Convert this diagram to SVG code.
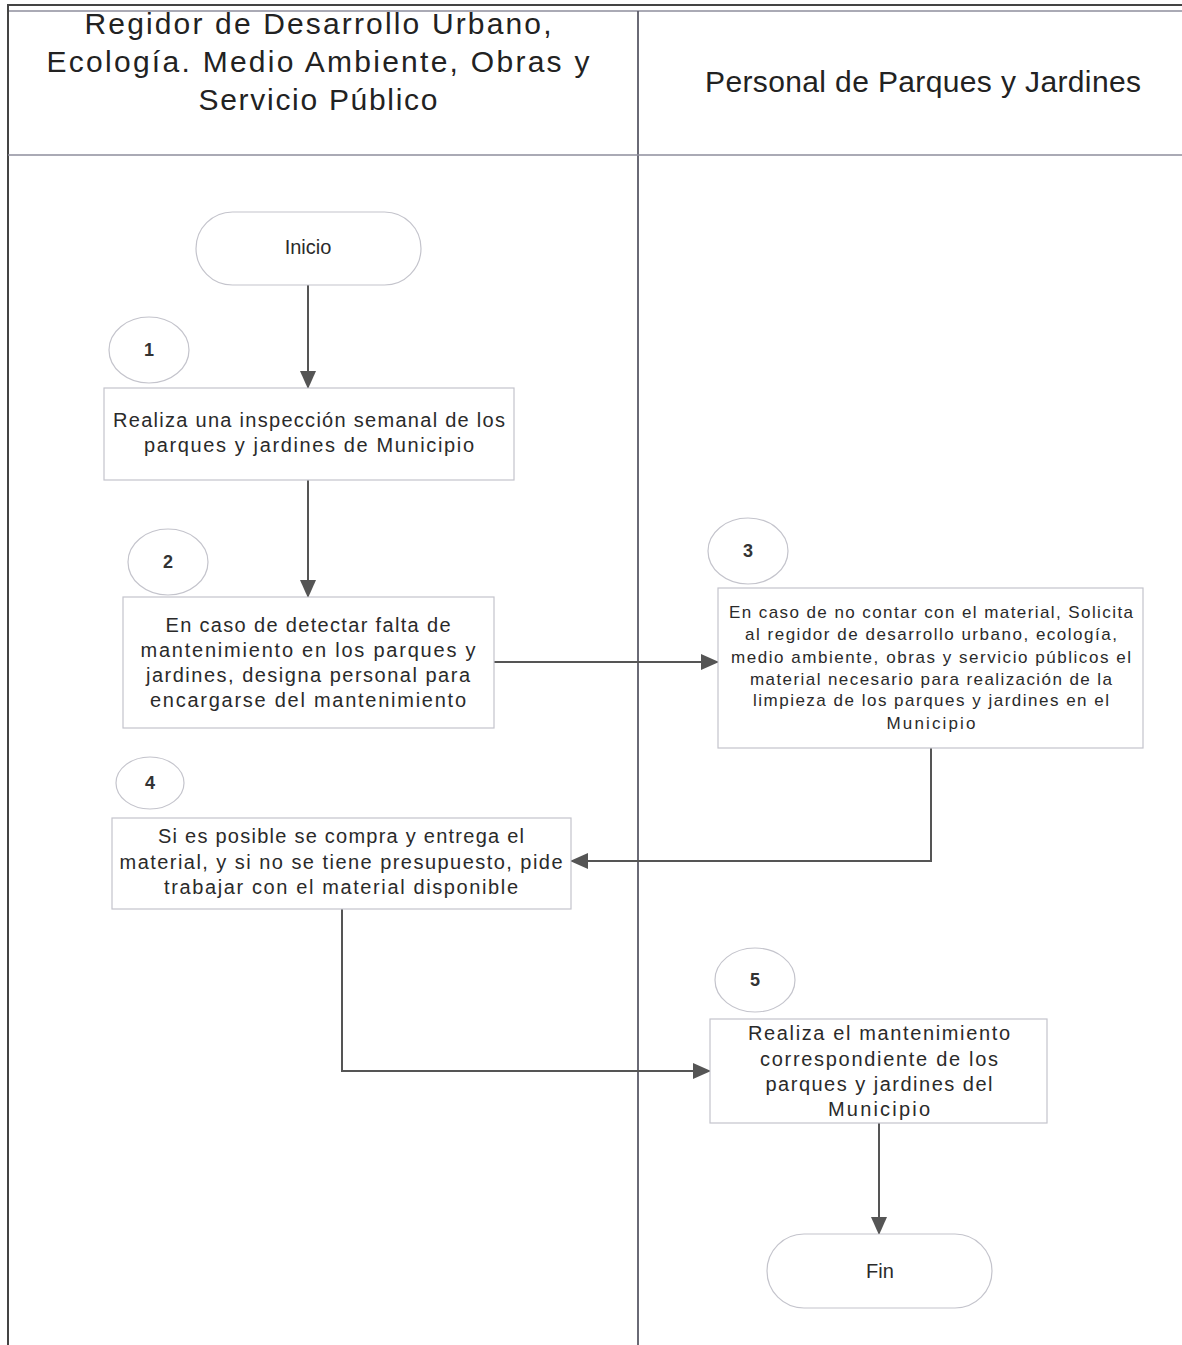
<svg xmlns="http://www.w3.org/2000/svg" width="1182" height="1345" viewBox="0 0 1182 1345">
  <style>
    .lane { fill: none; stroke: #444; stroke-width: 2; }
    .sep { fill: none; stroke: #8e8e9c; stroke-width: 1.6; }
    .div { fill: none; stroke: #5a5a66; stroke-width: 1.8; }
    .hdr { font-family: "Liberation Sans", Arial, sans-serif; font-size: 30px; fill: #222; text-anchor: middle; }
    .shape { fill: #fff; stroke: #c4c4cc; stroke-width: 1.2; }
    .txt { font-family: "Liberation Sans", Arial, sans-serif; font-size: 20px; fill: #2a2a2a; text-anchor: middle; }
    .small { font-size: 17px; }
    .num { font-family: "Liberation Sans", Arial, sans-serif; font-size: 18px; font-weight: bold; fill: #333; text-anchor: middle; }
    .conn { fill: none; stroke: #555; stroke-width: 2; }
  </style>
  <defs>
    <marker id="arrow" markerWidth="18" markerHeight="16" refX="17" refY="8" orient="auto" markerUnits="userSpaceOnUse" viewBox="0 0 18 16">
      <path d="M0,0 L18,8 L0,16 Z" fill="#555"/>
    </marker>
  </defs>
  <rect width="1182" height="1345" fill="#fff"/>

  <!-- swimlane frame -->
  <g id="lanes">
    <line class="lane" x1="7" y1="5" x2="1182" y2="5"/>
    <line class="sep" x1="7" y1="11" x2="1182" y2="11"/>
    <line class="lane" x1="8" y1="5" x2="8" y2="1345"/>
    <line class="div" x1="638" y1="11" x2="638" y2="1345"/>
    <line class="sep" x1="8" y1="155" x2="1182" y2="155"/>
    <text class="hdr" x="318" y="34" textLength="467">Regidor de Desarrollo Urbano,</text>
    <text class="hdr" x="318" y="72" textLength="543">Ecología. Medio Ambiente, Obras y</text>
    <text class="hdr" x="318" y="110" textLength="239">Servicio Público</text>
    <text class="hdr" x="923" y="92" textLength="436">Personal de Parques y Jardines</text>
  </g>

  <!-- connectors -->
  <g id="connectors">
    <line class="conn" x1="308" y1="285" x2="308" y2="388" marker-end="url(#arrow)"/>
    <line class="conn" x1="308" y1="480" x2="308" y2="597" marker-end="url(#arrow)"/>
    <line class="conn" x1="494" y1="662" x2="718" y2="662" marker-end="url(#arrow)"/>
    <polyline class="conn" points="931,748 931,861 571,861" marker-end="url(#arrow)"/>
    <polyline class="conn" points="342,909 342,1071 710,1071" marker-end="url(#arrow)"/>
    <line class="conn" x1="879" y1="1123" x2="879" y2="1234" marker-end="url(#arrow)"/>
  </g>

  <g id="inicio">
    <rect class="shape" x="196" y="212" width="225" height="73" rx="36.5"/>
    <text class="txt" x="308" y="254">Inicio</text>
  </g>

  <g id="step1">
    <ellipse class="shape" cx="149" cy="350" rx="40" ry="33"/>
    <text class="num" x="149" y="356">1</text>
    <rect class="shape" x="104" y="388" width="410" height="92"/>
    <text class="txt" x="309" y="427" textLength="392">Realiza una inspección semanal de los</text>
    <text class="txt" x="309" y="452" textLength="330">parques y jardines de Municipio</text>
  </g>

  <g id="step2">
    <ellipse class="shape" cx="168" cy="562" rx="40" ry="33"/>
    <text class="num" x="168" y="568">2</text>
    <rect class="shape" x="123" y="597" width="371" height="131"/>
    <text class="txt" x="308" y="632" textLength="285">En caso de detectar falta de</text>
    <text class="txt" x="308" y="657" textLength="335">mantenimiento en los parques y</text>
    <text class="txt" x="308" y="682" textLength="324">jardines, designa personal para</text>
    <text class="txt" x="308" y="707" textLength="316">encargarse del mantenimiento</text>
  </g>

  <g id="step3">
    <ellipse class="shape" cx="748" cy="551" rx="40" ry="33"/>
    <text class="num" x="748" y="557">3</text>
    <rect class="shape" x="718" y="588" width="425" height="160"/>
    <text class="txt small" x="931" y="618" textLength="404">En caso de no contar con el material, Solicita</text>
    <text class="txt small" x="931" y="640" textLength="372">al regidor de desarrollo urbano, ecología,</text>
    <text class="txt small" x="931" y="663" textLength="400">medio ambiente, obras y servicio públicos el</text>
    <text class="txt small" x="931" y="685" textLength="362">material necesario para realización de la</text>
    <text class="txt small" x="931" y="706" textLength="356">limpieza de los parques y jardines en el</text>
    <text class="txt small" x="931" y="729" textLength="89">Municipio</text>
  </g>

  <g id="step4">
    <ellipse class="shape" cx="150" cy="783" rx="34" ry="26"/>
    <text class="num" x="150" y="789">4</text>
    <rect class="shape" x="112" y="818" width="459" height="91"/>
    <text class="txt" x="341" y="843" textLength="366">Si es posible se compra y entrega el</text>
    <text class="txt" x="341" y="869" textLength="443">material, y si no se tiene presupuesto, pide</text>
    <text class="txt" x="341" y="894" textLength="354">trabajar con el material disponible</text>
  </g>

  <g id="step5">
    <ellipse class="shape" cx="755" cy="980" rx="40" ry="32"/>
    <text class="num" x="755" y="986">5</text>
    <rect class="shape" x="710" y="1019" width="337" height="104"/>
    <text class="txt" x="879" y="1040" textLength="262">Realiza el mantenimiento</text>
    <text class="txt" x="879" y="1066" textLength="238">correspondiente de los</text>
    <text class="txt" x="879" y="1091" textLength="227">parques y jardines del</text>
    <text class="txt" x="879" y="1116" textLength="102">Municipio</text>
  </g>

  <g id="fin">
    <rect class="shape" x="767" y="1234" width="225" height="74" rx="37"/>
    <text class="txt" x="880" y="1278">Fin</text>
  </g>
</svg>
